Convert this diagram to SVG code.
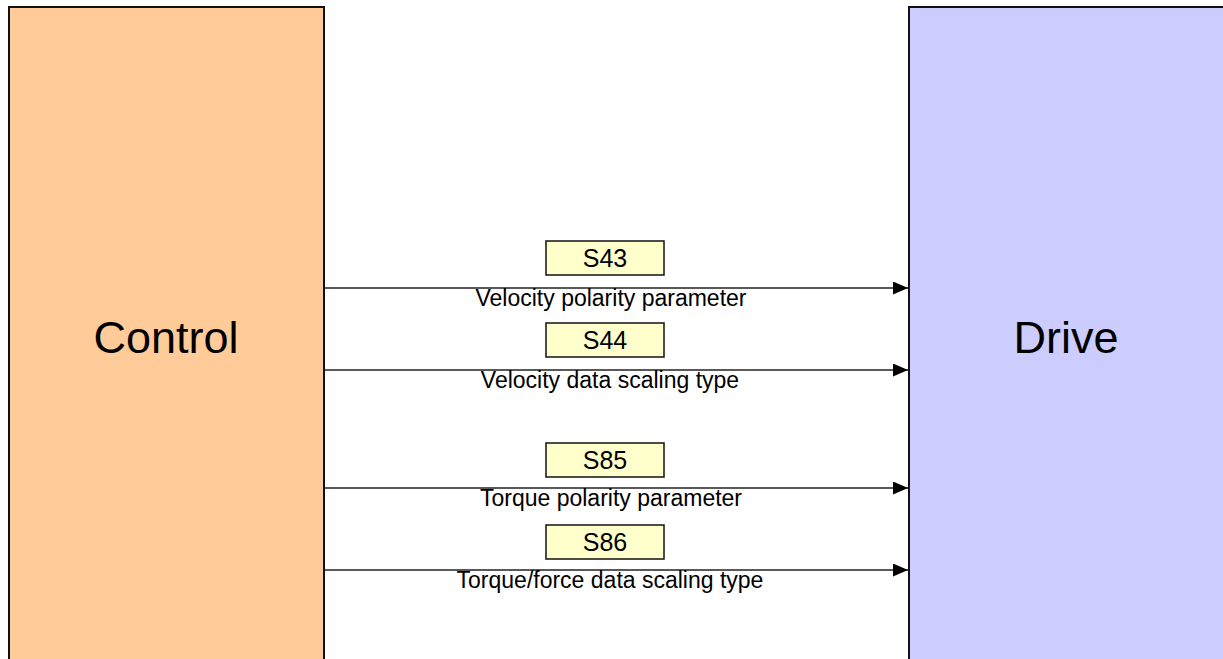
<svg xmlns="http://www.w3.org/2000/svg" width="1223" height="659" viewBox="0 0 1223 659">
  <style>
    .block { stroke: #111; stroke-width: 2; }
    .big { font-family: "Liberation Sans", Arial, sans-serif; font-size: 45px; fill: #000; text-anchor: middle; }
    .tag { fill: #FFFFCC; stroke: #111; stroke-width: 1.5; }
    .tagtxt { font-family: "Liberation Sans", Arial, sans-serif; font-size: 25px; fill: #000; text-anchor: middle; }
    .lbl { font-family: "Liberation Sans", Arial, sans-serif; font-size: 23px; fill: #000; text-anchor: middle; }
    .wire { stroke: #222; stroke-width: 1.5; fill: none; marker-end: url(#head); }
  </style>
  <defs>
    <marker id="head" viewBox="0 0 10 10" refX="10" refY="5" markerUnits="userSpaceOnUse" markerWidth="15" markerHeight="13" preserveAspectRatio="none" orient="auto">
      <path d="M0,0 L10,5 L0,10 Z" fill="#000"/>
    </marker>
  </defs>
  <rect width="1223" height="659" fill="#fff"/>

  <g id="control">
    <rect class="block" x="9" y="7" width="315" height="700" fill="#FFCC99"/>
    <text class="big" x="166" y="353">Control</text>
  </g>

  <g id="drive">
    <rect class="block" x="909" y="7" width="400" height="700" fill="#CCCCFF"/>
    <text class="big" x="1066" y="353">Drive</text>
  </g>

  <g id="connectors">
    <line class="wire" x1="325" y1="288" x2="908" y2="288"/>
    <line class="wire" x1="325" y1="370" x2="908" y2="370"/>
    <line class="wire" x1="325" y1="488" x2="908" y2="488"/>
    <line class="wire" x1="325" y1="570" x2="908" y2="570"/>
  </g>

  <g id="s43">
    <rect class="tag" x="546" y="241" width="118" height="34"/>
    <text class="tagtxt" x="605" y="267">S43</text>
    <text class="lbl" x="611" y="306">Velocity polarity parameter</text>
  </g>
  <g id="s44">
    <rect class="tag" x="546" y="323" width="118" height="34"/>
    <text class="tagtxt" x="605" y="349">S44</text>
    <text class="lbl" x="610" y="388">Velocity data scaling type</text>
  </g>
  <g id="s85">
    <rect class="tag" x="546" y="443" width="118" height="34"/>
    <text class="tagtxt" x="605" y="469">S85</text>
    <text class="lbl" x="611" y="506">Torque polarity parameter</text>
  </g>
  <g id="s86">
    <rect class="tag" x="546" y="525" width="118" height="34"/>
    <text class="tagtxt" x="605" y="551">S86</text>
    <text class="lbl" x="610" y="588">Torque/force data scaling type</text>
  </g>
</svg>
